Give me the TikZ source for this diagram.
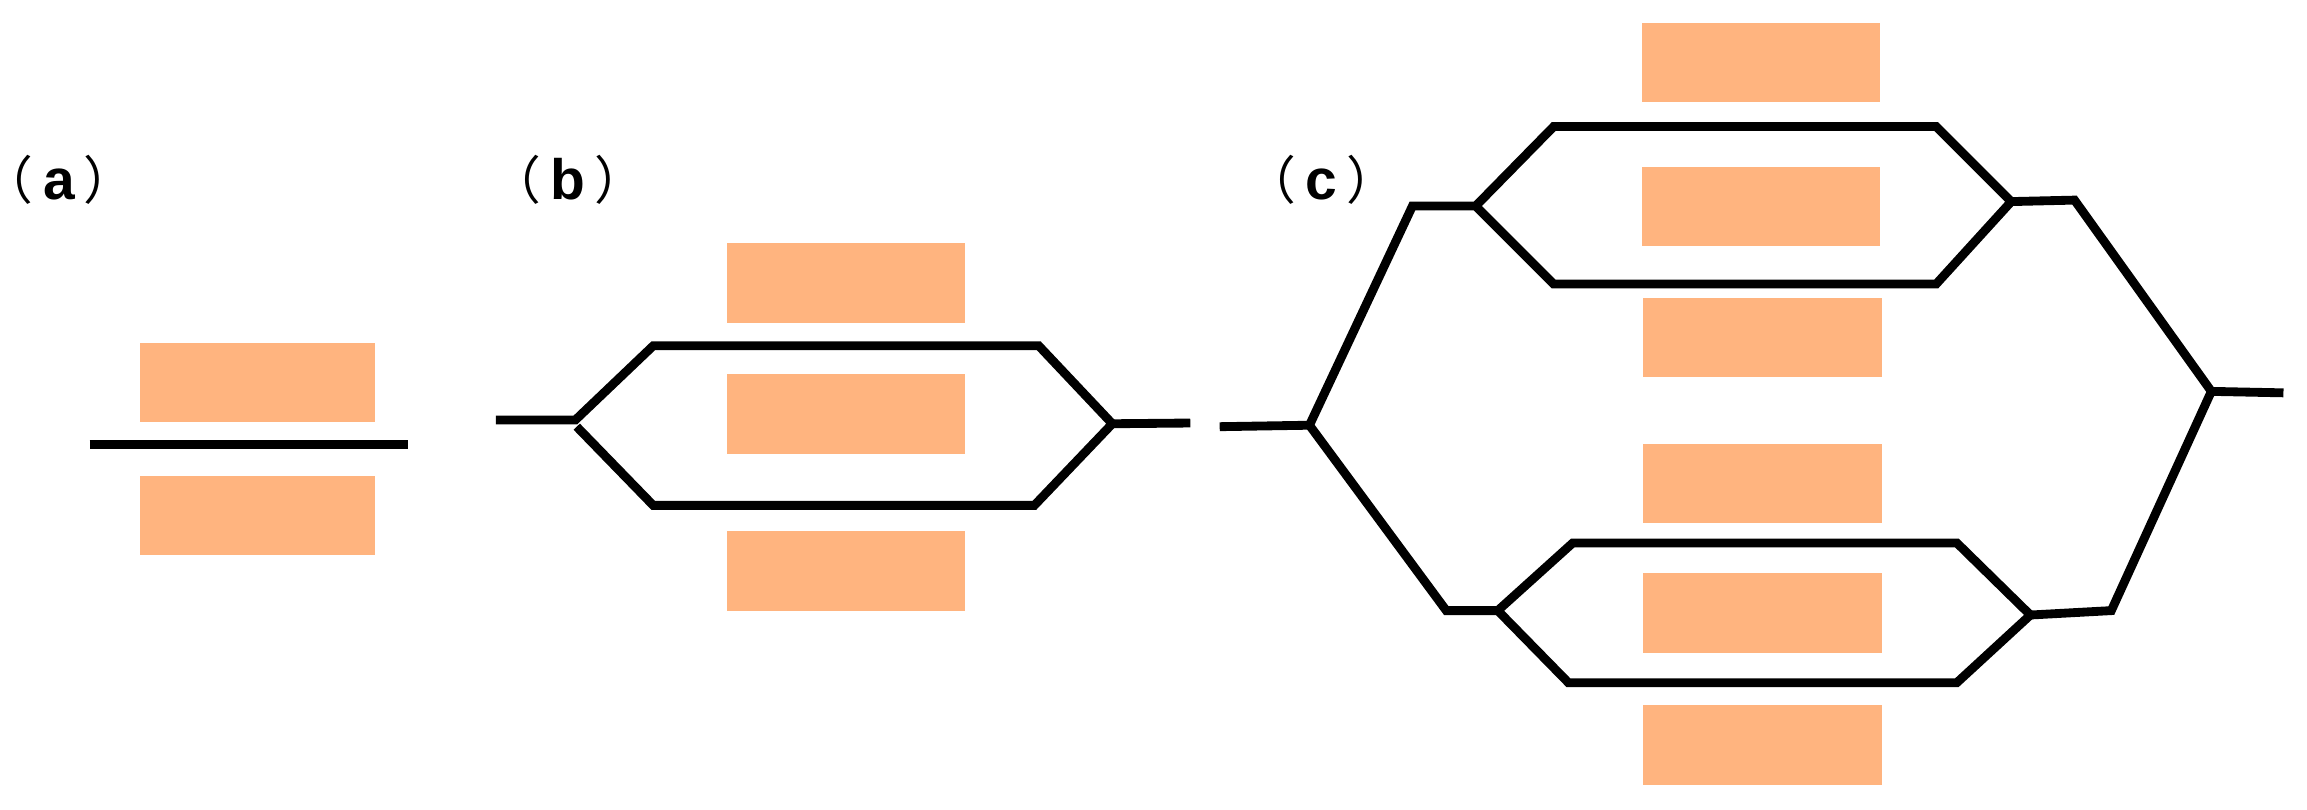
\documentclass[tikz,border=0pt]{standalone}
\usepackage{fontspec}
\setmainfont{Liberation Sans}
\newfontfamily\cjkfont{Noto Sans CJK SC}
\definecolor{barfill}{HTML}{FFB47F}
\tikzset{
  bar/.style={fill=barfill,draw=none,inner sep=0pt,minimum width=1.62cm,minimum height=0.54cm},
  wire/.style={draw=black,line width=0.06cm,line join=miter},
  lab/.style={inner sep=0pt,font=\fontsize{11pt}{11pt}\selectfont\bfseries,anchor=center}
}
\newcommand{\fwl}{{\cjkfont\mdseries\fontsize{10pt}{10pt}\selectfont （}\kern1.8pt}
\newcommand{\fwr}{\kern1.8pt{\cjkfont\mdseries\fontsize{10pt}{10pt}\selectfont ）}}
\begin{document}
\begin{tikzpicture}[x=0.01cm,y=-0.01cm]
\useasboundingbox (0,0) rectangle (1568,550.5);
% bars
\node[bar,minimum width=1.6cm] (a1) at (175,260) {};
\node[bar,minimum width=1.6cm] (a2) at (175,350.5) {};
\node[bar] (b1) at (575,192.5) {};
\node[bar] (b2) at (575,281.5) {};
\node[bar] (b3) at (575,388) {};
\node[bar] (c1) at (1197,42.5) {};
\node[bar] (c2) at (1197,140.5) {};
\node[bar] (c3) at (1198,229.5) {};
\node[bar] (c4) at (1198,328.5) {};
\node[bar] (c5) at (1198,416.5) {};
\node[bar] (c6) at (1198,506.5) {};
% labels
\node[lab] (la) at (40,122) {\fwl a\fwr};
\node[lab] (lb) at (386,122) {\fwl b\fwr};
\node[lab] (lc) at (898,122) {\fwl c\fwr};
% (a)
\coordinate (aL) at (61,302); \coordinate (aR) at (277,302);
\draw[wire] (aL) -- (aR);
% (b)
\coordinate (bIn) at (337,285.5); \coordinate (bJ) at (391,285.5);
\coordinate (bT1) at (444,235); \coordinate (bT2) at (706,235);
\coordinate (bK) at (756,288); \coordinate (bOut) at (809,287.5);
\coordinate (bJ2) at (392,290);
\coordinate (bB1) at (444,343.5); \coordinate (bB2) at (703,343.5);
\draw[wire] (bIn) -- (bJ) -- (bT1) -- (bT2) -- (bK) -- (bB2) -- (bB1) -- (bJ2);
\draw[wire] (bK) -- (bOut);
% (c)
\coordinate (cIn) at (829,290); \coordinate (cJ) at (890,289);
\coordinate (cU1) at (960,140); \coordinate (cU2) at (1003,140);
\coordinate (cUt1) at (1056,86); \coordinate (cUt2) at (1316,86);
\coordinate (cUk) at (1367,137);
\coordinate (cUb2) at (1316,193); \coordinate (cUb1) at (1056,193);
\coordinate (cU3) at (1410,136); \coordinate (cK) at (1503,266);
\coordinate (cOut) at (1552,267);
\coordinate (cL1) at (983,415); \coordinate (cL2) at (1018,415);
\coordinate (cLt1) at (1069,369); \coordinate (cLt2) at (1330,369);
\coordinate (cLk) at (1380,418);
\coordinate (cLb2) at (1330,464); \coordinate (cLb1) at (1066,464);
\coordinate (cL3) at (1435,415);
\draw[wire] (cIn) -- (cJ) -- (cU1) -- (cU2) -- (cUt1) -- (cUt2) -- (cUk) -- (cUb2) -- (cUb1) -- (cU2);
\draw[wire] (cUk) -- (cU3) -- (cK) -- (cOut);
\draw[wire] (cJ) -- (cL1) -- (cL2) -- (cLt1) -- (cLt2) -- (cLk) -- (cLb2) -- (cLb1) -- (cL2);
\draw[wire] (cLk) -- (cL3) -- (cK);
\end{tikzpicture}
\end{document}
